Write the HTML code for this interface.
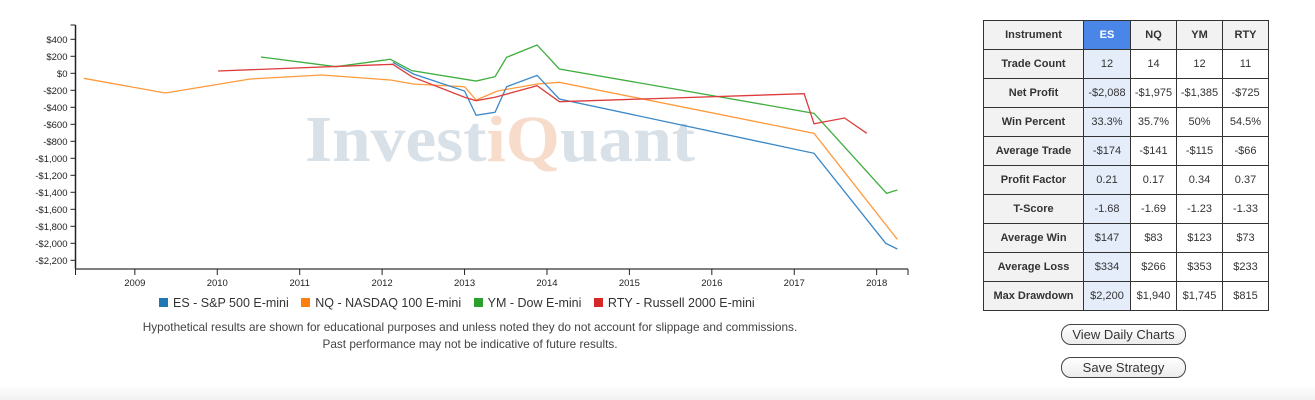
<!DOCTYPE html>
<html><head><meta charset="utf-8">
<style>
body{margin:0;width:1315px;height:400px;background:#fff;font-family:"Liberation Sans",sans-serif;position:relative;overflow:hidden}
#tbl{position:absolute;left:983px;top:20px;border-collapse:collapse;font-size:11px;color:#333}
#tbl td{border:1.5px solid #333;height:28px;text-align:center;padding:0}
#tbl td.l{background:#f2f2f2;font-weight:bold;width:99px}
#tbl td.es{background:#e5edfb;width:46px}
#tbl td.c{width:45px}
#tbl td.h{background:#f2f2f2;font-weight:bold}
#tbl td.eh{background:#4a86e8;color:#fff;font-weight:bold}
.btn{position:absolute;left:1061px;width:123px;height:19px;border:1.5px solid #444;border-radius:10px;background:linear-gradient(#fff,#ececec);font-size:13px;text-align:center;line-height:19px;color:#333}
</style></head><body>
<svg id="chart" width="960" height="360" style="position:absolute;left:0;top:0" font-family="Liberation Sans, sans-serif">
<g font-family="Liberation Serif, serif" font-weight="bold" font-size="66">
<text x="305" y="161" fill="#d8e0e8" textLength="390" lengthAdjust="spacingAndGlyphs">Invest<tspan fill="#f7dccb">iQ</tspan>uant</text>
</g>
<g id="axes"></g><g id="lines"></g>
</svg>
<div style="position:absolute;left:159px;top:296px;font-size:12.5px;color:#333;white-space:nowrap">
<span><span style="display:inline-block;width:9px;height:9px;background:#1f77b4;margin-right:5px"></span>ES - S&amp;P 500 E-mini</span>
<span style="margin-left:9px"><span style="display:inline-block;width:9px;height:9px;background:#ff7f0e;margin-right:5px"></span>NQ - NASDAQ 100 E-mini</span>
<span style="margin-left:9px"><span style="display:inline-block;width:9px;height:9px;background:#2ca02c;margin-right:5px"></span>YM - Dow E-mini</span>
<span style="margin-left:9px"><span style="display:inline-block;width:9px;height:9px;background:#d62728;margin-right:5px"></span>RTY - Russell 2000 E-mini</span>
</div>
<div style="position:absolute;left:90px;width:760px;top:319px;text-align:center;font-size:11.8px;line-height:17px;color:#444">Hypothetical results are shown for educational purposes and unless noted they do not account for slippage and commissions.<br>Past performance may not be indicative of future results.</div>
<table id="tbl">
<tr><td class="l h">Instrument</td><td class="eh">ES</td><td class="h c">NQ</td><td class="h c">YM</td><td class="h c">RTY</td></tr>
<tr><td class="l">Trade Count</td><td class="es">12</td><td>14</td><td>12</td><td>11</td></tr>
<tr><td class="l">Net Profit</td><td class="es">-$2,088</td><td>-$1,975</td><td>-$1,385</td><td>-$725</td></tr>
<tr><td class="l">Win Percent</td><td class="es">33.3%</td><td>35.7%</td><td>50%</td><td>54.5%</td></tr>
<tr><td class="l">Average Trade</td><td class="es">-$174</td><td>-$141</td><td>-$115</td><td>-$66</td></tr>
<tr><td class="l">Profit Factor</td><td class="es">0.21</td><td>0.17</td><td>0.34</td><td>0.37</td></tr>
<tr><td class="l">T-Score</td><td class="es">-1.68</td><td>-1.69</td><td>-1.23</td><td>-1.33</td></tr>
<tr><td class="l">Average Win</td><td class="es">$147</td><td>$83</td><td>$123</td><td>$73</td></tr>
<tr><td class="l">Average Loss</td><td class="es">$334</td><td>$266</td><td>$353</td><td>$233</td></tr>
<tr><td class="l">Max Drawdown</td><td class="es">$2,200</td><td>$1,940</td><td>$1,745</td><td>$815</td></tr>
</table>
<div class="btn" style="top:324px">View Daily Charts</div>
<div class="btn" style="top:357px">Save Strategy</div>
<div style="position:absolute;left:0;top:386px;width:1315px;height:14px;background:linear-gradient(#fff,#f1f1f1)"></div>
<script>
const yTicks=[400,200,0,-200,-400,-600,-800,-1000,-1200,-1400,-1600,-1800,-2000,-2200];
const xTicks=[2009,2010,2011,2012,2013,2014,2015,2016,2017,2018];
const esX=[2012.13,2012.38,2013.0,2013.14,2013.37,2013.51,2013.88,2014.15,2017.24,2018.11,2018.25];
const esY=[129,-8,-208,-494,-459,-158,-24,-302,-941,-2000,-2067];
const nqX=[2008.38,2009.37,2010.40,2011.27,2012.10,2012.38,2013.0,2013.14,2013.40,2013.88,2014.15,2017.24,2018.25];
const nqY=[-59,-232,-67,-20,-79,-126,-158,-314,-208,-126,-106,-706,-1953];
const ymX=[2010.53,2011.44,2012.10,2012.36,2013.14,2013.37,2013.51,2013.88,2014.15,2017.24,2018.12,2018.25];
const ymY=[192,78,165,31,-91,-40,188,333,51,-471,-1412,-1373];
const rtyX=[2010.01,2012.13,2012.36,2013.0,2013.14,2013.37,2013.88,2014.15,2017.12,2017.24,2017.61,2017.88];
const rtyY=[27,106,-40,-282,-322,-282,-146,-334,-240,-593,-526,-706];
const X0=75.5,X1=908,D0=2008.28,D1=2018.38;
function sx(v){return X0+(v-D0)/(D1-D0)*(X1-X0);}
function sy(v){return 73.3-v*0.085;}
const NS='http://www.w3.org/2000/svg';
const ax=document.getElementById('axes'),ln=document.getElementById('lines');
function mk(t,a,p){const e=document.createElementNS(NS,t);for(const k in a)e.setAttribute(k,a[k]);p.appendChild(e);return e;}
const ya=mk('line',{x1:X0,y1:25,x2:X0,y2:269,stroke:'#222','stroke-width':1.5},ax);


const xa=mk('line',{x1:X0,y1:269,x2:X1,y2:269,stroke:'#555','stroke-width':1.5},ax);


mk('line',{x1:X0,y1:269,x2:X0,y2:275,stroke:'#222'},ax);
mk('line',{x1:X1,y1:269,x2:X1,y2:275,stroke:'#222'},ax);
mk('line',{x1:X0-5,y1:25,x2:X0,y2:25,stroke:'#222'},ax);
yTicks.forEach(v=>{
 const y=sy(v);
 mk('line',{x1:X0-5,y1:y,x2:X0,y2:y,stroke:'#222'},ax);
 const t=mk('text',{x:X0-8,y:y+3.5,'text-anchor':'end','font-size':9.5,fill:'#222'},ax);
 
 
 t.textContent=(v<0?'-$':'$')+Math.abs(v).toLocaleString('en-US');
});
xTicks.forEach(v=>{
 const x=sx(v);
 mk('line',{x1:x,y1:269,x2:x,y2:275,stroke:'#222'},ax);
 const t=mk('text',{x:x,y:286,'text-anchor':'middle','font-size':9.5,fill:'#222'},ax);
 
 
 t.textContent=v;
});
function series(xs,ys,c,name){
 const p=mk('polyline',{points:xs.map((x,i)=>sx(x)+','+sy(ys[i])).join(' '),fill:'none',stroke:c,'stroke-width':1.3},ln);
 
 
}
series(nqX,nqY,'#ff9a3c','nq-line');
series(esX,esY,'#3a88c8','es-line');
series(ymX,ymY,'#3fae3f','ym-line');
series(rtyX,rtyY,'#dd3c3c','rty-line');
</script>
</body></html>
